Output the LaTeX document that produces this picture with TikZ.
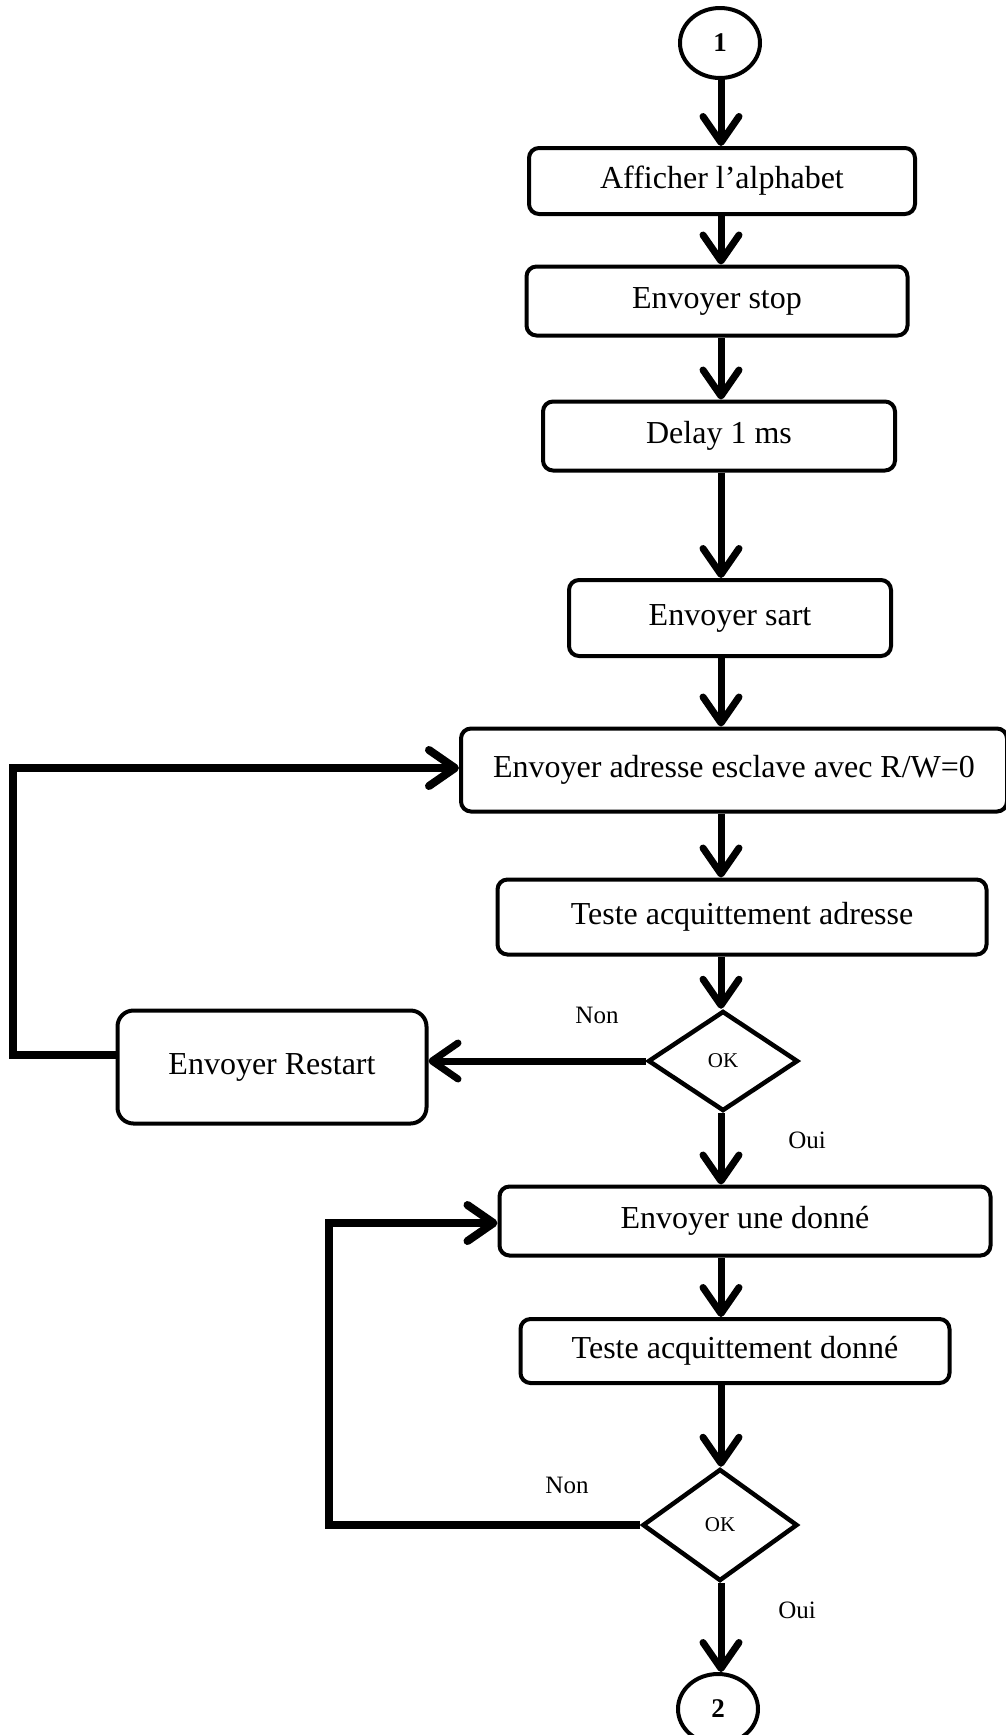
\documentclass[tikz,border=0pt]{standalone}
\usepackage{fontspec}
\setmainfont{Liberation Serif}
\usetikzlibrary{arrows.meta,shapes.geometric}
\begin{document}
\begin{tikzpicture}[x=1pt,y=-1pt,
  proc/.style={draw, line width=4pt, rounded corners=10pt, inner sep=0pt, font=\fontsize{32}{37}\selectfont, align=center},
  dec/.style={draw, diamond, line width=4.5pt, inner sep=0pt, font=\fontsize{21}{24}\selectfont},
  conn/.style={draw, ellipse, line width=4pt, inner sep=0pt, minimum width=80pt, minimum height=70pt, font=\bfseries\fontsize{27}{30}\selectfont},
  lbl/.style={font=\fontsize{25}{28}\selectfont, inner sep=0pt},
  tipb/.tip={Straight Barb[length=26pt,width=36pt,round]},
  arr/.style={line width=7pt, -tipb},
  loopl/.style={line width=8pt, line join=miter, -tipb},
]
\useasboundingbox (0,0) rectangle (1006,1735);
\coordinate (sp) at (721,0);

\node[conn] (c1) at (720,43) {1};
\node[proc, minimum width=386pt, minimum height=66pt] (b1) at (722,181) {Afficher l’alphabet};
\node[proc, minimum width=381pt, minimum height=69pt] (b2) at (717,301) {Envoyer stop};
\node[proc, minimum width=352pt, minimum height=69pt] (b3) at (719,436) {Delay 1 ms};
\node[proc, minimum width=322pt, minimum height=76pt] (b4) at (730,618) {Envoyer sart};
\node[proc, minimum width=546pt, minimum height=83pt] (b5) at (734,770) {Envoyer adresse esclave avec R/W=0};
\node[proc, minimum width=489pt, minimum height=75pt] (b6) at (742,917) {Teste acquittement adresse};
\node[dec, minimum width=150pt, minimum height=100pt] (d1) at (723,1061) {OK};
\node[proc, rounded corners=16pt, minimum width=309pt, minimum height=113pt] (rs) at (272,1067) {Envoyer Restart};
\node[proc, minimum width=491pt, minimum height=69pt] (b7) at (745,1221) {Envoyer une donné};
\node[proc, minimum width=429pt, minimum height=64pt] (b8) at (735,1351) {Teste acquittement donné};
\node[dec, minimum width=155pt, minimum height=112pt] (d2) at (720,1525) {OK};
\node[conn] (c2) at (718,1709) {2};

\node[lbl] (non1) at (597,1015) {Non};
\node[lbl] (oui1) at (807,1140) {Oui};
\node[lbl] (non2) at (567,1485) {Non};
\node[lbl] (oui2) at (797,1610) {Oui};

\draw[arr] (c1.south -| sp) -- (b1.north -| sp);
\draw[arr] (b1.south -| sp) -- (b2.north -| sp);
\draw[arr] (b2.south -| sp) -- (b3.north -| sp);
\draw[arr] (b3.south -| sp) -- (b4.north -| sp);
\draw[arr] (b4.south -| sp) -- (b5.north -| sp);
\draw[arr] (b5.south -| sp) -- (b6.north -| sp);
\draw[arr] (b6.south -| sp) -- (d1.north -| sp);
\draw[arr] (d1.south -| sp) -- (b7.north -| sp);
\draw[arr] (b7.south -| sp) -- (b8.north -| sp);
\draw[arr] (b8.south -| sp) -- (d2.north -| sp);
\draw[arr] (d2.south -| sp) -- (c2.north -| sp);

\draw[arr] (d1.west) -- (d1.west -| rs.east);

\coordinate (l1a) at (13,1055);
\coordinate (l1b) at (13,768);
\draw[loopl] (rs.west |- l1a) -- (l1a) -- (l1b) -- (b5.west |- l1b);

\coordinate (l2a) at (329,1525);
\coordinate (l2b) at (329,1223);
\draw[loopl] (d2.west) -- (l2a) -- (l2b) -- (b7.west |- l2b);
\end{tikzpicture}
\end{document}
